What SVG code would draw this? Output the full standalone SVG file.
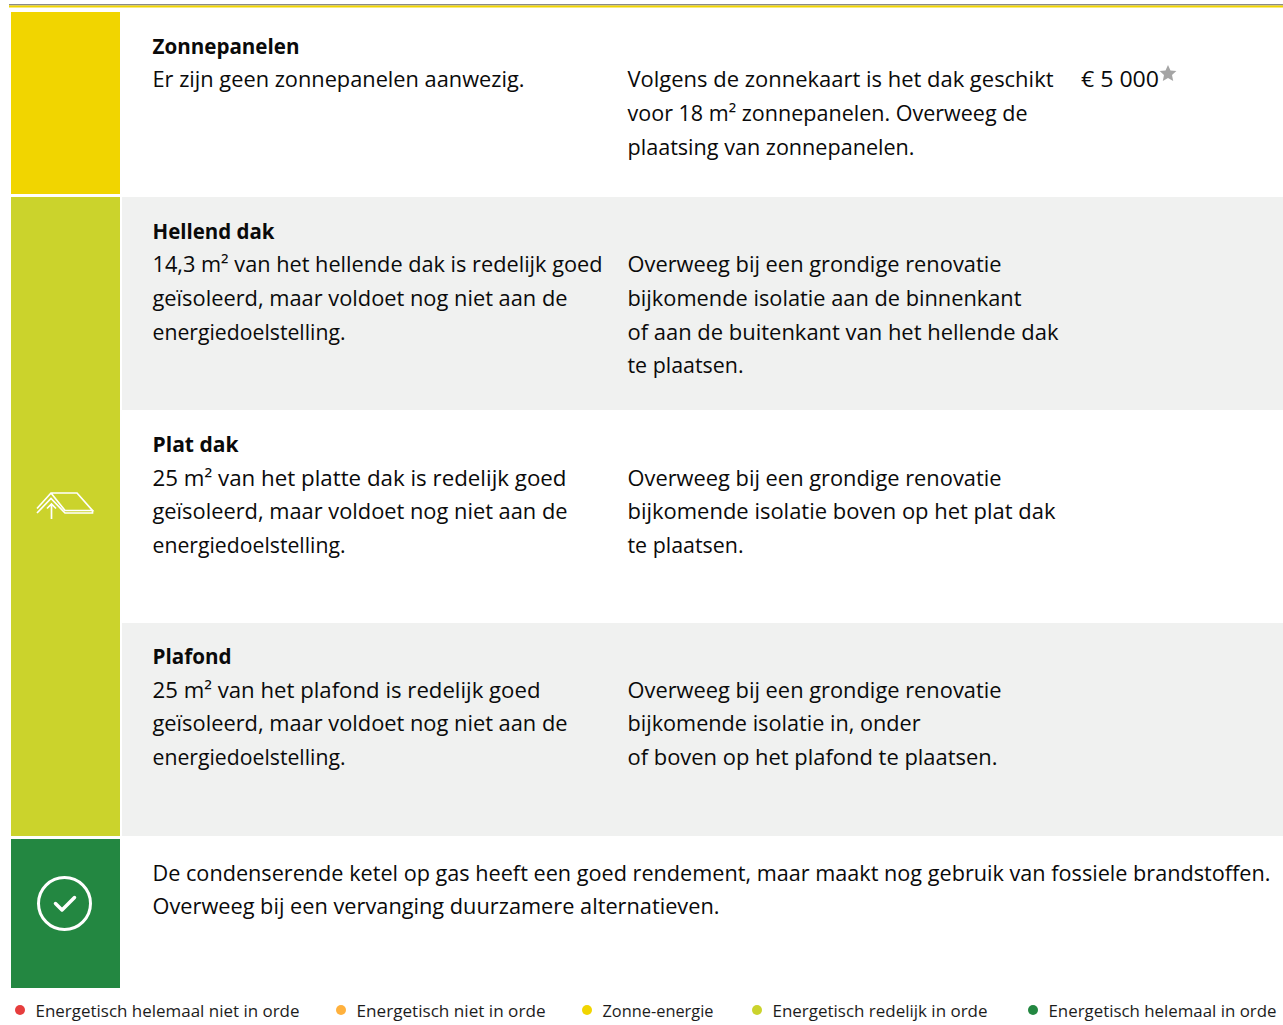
<svg xmlns="http://www.w3.org/2000/svg" width="1283" height="1025" viewBox="0 0 1283 1025">
<style>
text{font-family:"Open Sans","Noto Sans",sans-serif;fill:#0a0a0a;font-size:22px}
.b{font-weight:700}
.l{font-size:17px;fill:#1c1c1c}
.ic{fill:none;stroke:#fff}
</style>
<rect width="1283" height="1025" fill="#fff"/>
<rect x="9" y="4" width="1274" height="1.5" fill="#8a8a8a"/>
<rect x="9" y="5.5" width="1274" height="2" fill="#f1d500"/>
<g id="node-zon">
<rect x="11" y="12" width="109" height="182" fill="#f1d500"/>
<text class="b" x="152.500" y="54" textLength="147" lengthAdjust="spacingAndGlyphs">Zonnepanelen</text>
<text x="152.500" y="87" textLength="372" lengthAdjust="spacingAndGlyphs">Er zijn geen zonnepanelen aanwezig.</text>
<text x="627.500" y="87" textLength="426" lengthAdjust="spacingAndGlyphs">Volgens de zonnekaart is het dak geschikt</text>
<text x="627.500" y="121" textLength="400" lengthAdjust="spacingAndGlyphs">voor 18 m² zonnepanelen. Overweeg de</text>
<text x="627.500" y="155" textLength="287" lengthAdjust="spacingAndGlyphs">plaatsing van zonnepanelen.</text>
<text x="1081" y="87" textLength="78" lengthAdjust="spacingAndGlyphs">€ 5 000</text>
<path d="M1168 65l2.500 5.400 5.900.7-4.400 4 1.200 5.800-5.200-2.900-5.200 2.900 1.200-5.800-4.400-4 5.900-.7z" fill="#a5a5a5"/>
</g>
<g id="node-dak">
<rect x="11" y="197" width="109" height="639" fill="#cbd32c"/>
<g class="ic" stroke-width="1.700">
<path d="M37 508.500L51 493H77L92.500 510.500H65L51 493"/>
<path d="M37 513L51 498.500 65 513H92.500V510.500"/>
<path d="M51.500 519V504M47 508.500L51.500 504 56 508.500"/>
</g>
</g>
<g id="node-hellend">
<rect x="122" y="197" width="1161" height="213" fill="#f0f1f0"/>
<text class="b" x="152.500" y="239" textLength="122" lengthAdjust="spacingAndGlyphs">Hellend dak</text>
<text x="152.500" y="272" textLength="450" lengthAdjust="spacingAndGlyphs">14,3 m² van het hellende dak is redelijk goed</text>
<text x="152.500" y="306" textLength="415" lengthAdjust="spacingAndGlyphs">geïsoleerd, maar voldoet nog niet aan de</text>
<text x="152.500" y="340" textLength="193" lengthAdjust="spacingAndGlyphs">energiedoelstelling.</text>
<text x="627.500" y="272" textLength="374" lengthAdjust="spacingAndGlyphs">Overweeg bij een grondige renovatie</text>
<text x="627.500" y="306" textLength="394" lengthAdjust="spacingAndGlyphs">bijkomende isolatie aan de binnenkant</text>
<text x="627.500" y="340" textLength="431" lengthAdjust="spacingAndGlyphs">of aan de buitenkant van het hellende dak</text>
<text x="627.500" y="373" textLength="116" lengthAdjust="spacingAndGlyphs">te plaatsen.</text>
</g>
<g id="node-plat">
<text class="b" x="152.500" y="452" textLength="86" lengthAdjust="spacingAndGlyphs">Plat dak</text>
<text x="152.500" y="486" textLength="414" lengthAdjust="spacingAndGlyphs">25 m² van het platte dak is redelijk goed</text>
<text x="152.500" y="519" textLength="415" lengthAdjust="spacingAndGlyphs">geïsoleerd, maar voldoet nog niet aan de</text>
<text x="152.500" y="553" textLength="193" lengthAdjust="spacingAndGlyphs">energiedoelstelling.</text>
<text x="627.500" y="486" textLength="374" lengthAdjust="spacingAndGlyphs">Overweeg bij een grondige renovatie</text>
<text x="627.500" y="519" textLength="428" lengthAdjust="spacingAndGlyphs">bijkomende isolatie boven op het plat dak</text>
<text x="627.500" y="553" textLength="116" lengthAdjust="spacingAndGlyphs">te plaatsen.</text>
</g>
<g id="node-plafond">
<rect x="122" y="623" width="1161" height="213" fill="#f0f1f0"/>
<text class="b" x="152.500" y="664" textLength="79" lengthAdjust="spacingAndGlyphs">Plafond</text>
<text x="152.500" y="698" textLength="388" lengthAdjust="spacingAndGlyphs">25 m² van het plafond is redelijk goed</text>
<text x="152.500" y="731" textLength="415" lengthAdjust="spacingAndGlyphs">geïsoleerd, maar voldoet nog niet aan de</text>
<text x="152.500" y="765" textLength="193" lengthAdjust="spacingAndGlyphs">energiedoelstelling.</text>
<text x="627.500" y="698" textLength="374" lengthAdjust="spacingAndGlyphs">Overweeg bij een grondige renovatie</text>
<text x="627.500" y="731" textLength="293" lengthAdjust="spacingAndGlyphs">bijkomende isolatie in, onder</text>
<text x="627.500" y="765" textLength="370" lengthAdjust="spacingAndGlyphs">of boven op het plafond te plaatsen.</text>
</g>
<g id="node-ketel">
<rect x="11" y="839" width="109" height="149" fill="#238741"/>
<circle class="ic" cx="64.500" cy="903.500" r="26" stroke-width="3"/>
<path class="ic" d="M55.500 903.500L62 910 74.500 897.500" stroke-width="3.500" stroke-linecap="round" stroke-linejoin="round"/>
<text x="152.500" y="881" style="font-size:21.500px" textLength="1118" lengthAdjust="spacingAndGlyphs">De condenserende ketel op gas heeft een goed rendement, maar maakt nog gebruik van fossiele brandstoffen.</text>
<text x="152.500" y="914" textLength="567" lengthAdjust="spacingAndGlyphs">Overweeg bij een vervanging duurzamere alternatieven.</text>
</g>
<g id="legend">
<circle cx="20" cy="1010" r="5" fill="#e63d3d"/>
<text class="l" x="35.500" y="1017" textLength="264" lengthAdjust="spacingAndGlyphs">Energetisch helemaal niet in orde</text>
<circle cx="341" cy="1010" r="5" fill="#ffb13d"/>
<text class="l" x="356.500" y="1017" textLength="189" lengthAdjust="spacingAndGlyphs">Energetisch niet in orde</text>
<circle cx="587" cy="1010" r="5" fill="#f1d500"/>
<text class="l" x="602.500" y="1017" textLength="111" lengthAdjust="spacingAndGlyphs">Zonne-energie</text>
<circle cx="757" cy="1010" r="5" fill="#cbd32c"/>
<text class="l" x="772.500" y="1017" textLength="215" lengthAdjust="spacingAndGlyphs">Energetisch redelijk in orde</text>
<circle cx="1033" cy="1010" r="5" fill="#238741"/>
<text class="l" x="1048.500" y="1017" textLength="228" lengthAdjust="spacingAndGlyphs">Energetisch helemaal in orde</text>
</g>
</svg>
